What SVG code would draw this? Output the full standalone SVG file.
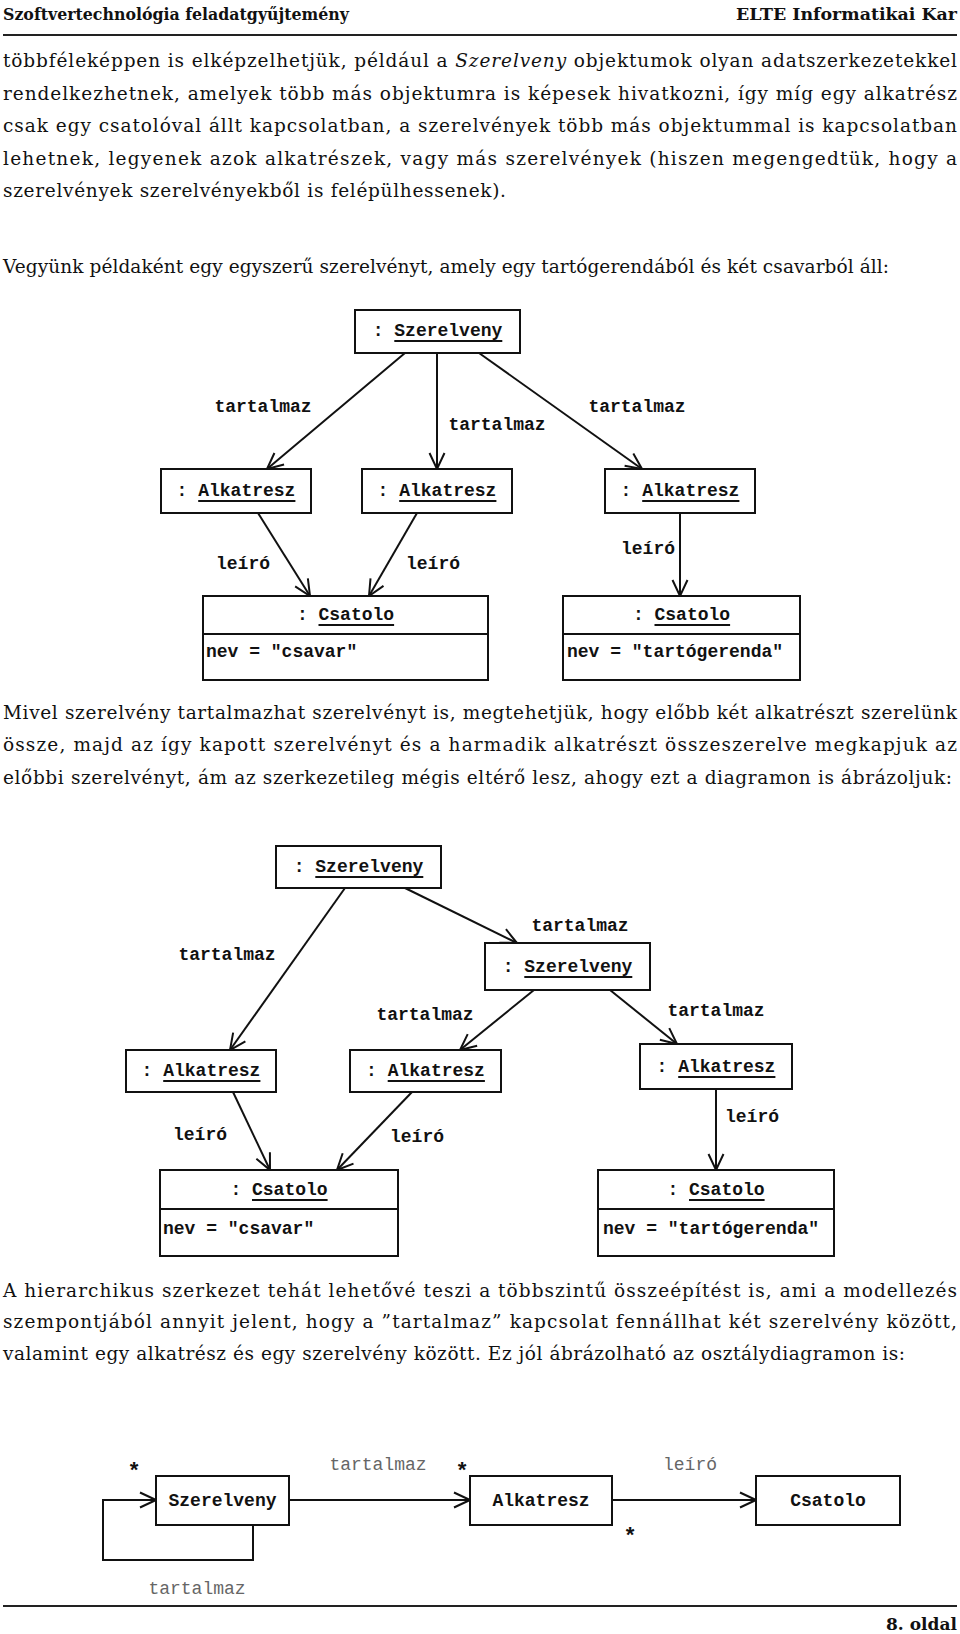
<svg xmlns="http://www.w3.org/2000/svg" width="960" height="1634" viewBox="0 0 960 1634">
<style>
.body{font-family:"DejaVu Serif","Liberation Serif",serif;font-size:18.5px;fill:#111}
.hdr{font-family:"DejaVu Serif","Liberation Serif",serif;font-size:17.5px;font-weight:bold;fill:#111}
.mono{font-family:"Liberation Mono","Courier New",monospace;font-size:18px;font-weight:bold;fill:#111}
.lbl{font-family:"Liberation Mono","Courier New",monospace;font-size:18px;font-weight:bold;fill:#111;text-anchor:middle}
.star{font-family:"Liberation Mono","Courier New",monospace;font-size:22px;font-weight:bold;fill:#111;text-anchor:middle}
.glbl{font-family:"Liberation Mono","Courier New",monospace;font-size:18px;fill:#666;text-anchor:middle}
.box{fill:#fff;stroke:#111;stroke-width:2}
.ul{stroke:#111;stroke-width:2}
.con{fill:none;stroke:#111;stroke-width:2}
.rule{stroke:#222;stroke-width:2}
</style>
<defs>
<marker id="arr" viewBox="0 0 20 20" refX="18" refY="10" markerWidth="20" markerHeight="20" markerUnits="userSpaceOnUse" orient="auto">
<path d="M2,2.5 L18,10 L2,17.5" fill="none" stroke="#111" stroke-width="2"/>
</marker>
</defs>
<rect width="960" height="1634" fill="#fff"/>

<!-- header -->
<g id="header">
<text class="hdr" x="3" y="20" textLength="346" lengthAdjust="spacingAndGlyphs">Szoftvertechnológia feladatgyűjtemény</text>
<text class="hdr" x="736" y="20" textLength="221" lengthAdjust="spacingAndGlyphs">ELTE Informatikai Kar</text>
<line class="rule" x1="3" y1="35" x2="957" y2="35"/>
</g>

<!-- paragraph 1 -->
<g id="para1">
<text class="body" x="3" y="67" textLength="954" lengthAdjust="spacing">többféleképpen is elképzelhetjük, például a <tspan font-style="italic">Szerelveny</tspan> objektumok olyan adatszerkezetekkel</text>
<text class="body" x="3" y="100" textLength="954" lengthAdjust="spacing">rendelkezhetnek, amelyek több más objektumra is képesek hivatkozni, így míg egy alkatrész</text>
<text class="body" x="3" y="132" textLength="954" lengthAdjust="spacing">csak egy csatolóval állt kapcsolatban, a szerelvények több más objektummal is kapcsolatban</text>
<text class="body" x="3" y="165" textLength="954" lengthAdjust="spacing">lehetnek, legyenek azok alkatrészek, vagy más szerelvények (hiszen megengedtük, hogy a</text>
<text class="body" x="3" y="197" textLength="503" lengthAdjust="spacing">szerelvények szerelvényekből is felépülhessenek).</text>
<text class="body" x="3" y="273" textLength="886" lengthAdjust="spacing">Vegyünk példaként egy egyszerű szerelvényt, amely egy tartógerendából és két csavarból áll:</text>
</g>

<!-- diagram 1 -->
<g id="d1-connectors">
<line class="con" x1="405" y1="353" x2="267" y2="469" marker-end="url(#arr)"/>
<line class="con" x1="437" y1="353" x2="437" y2="469" marker-end="url(#arr)"/>
<line class="con" x1="479" y1="353" x2="642" y2="469" marker-end="url(#arr)"/>
<line class="con" x1="258" y1="513" x2="310" y2="596" marker-end="url(#arr)"/>
<line class="con" x1="417" y1="513" x2="369" y2="596" marker-end="url(#arr)"/>
<line class="con" x1="680" y1="513" x2="680" y2="596" marker-end="url(#arr)"/>
<text class="lbl" x="263" y="412">tartalmaz</text>
<text class="lbl" x="497" y="430">tartalmaz</text>
<text class="lbl" x="637" y="412">tartalmaz</text>
<text class="lbl" x="243" y="569">leíró</text>
<text class="lbl" x="433" y="569">leíró</text>
<text class="lbl" x="648" y="554">leíró</text>
</g>
<g id="d1-szerelveny">
<rect class="box" x="355" y="310" width="165" height="43"/>
<text class="mono" x="372.7" y="336">: Szerelveny</text>
<line class="ul" x1="394.3" y1="341" x2="502.3" y2="341"/>
</g>
<g id="d1-alkatresz1">
<rect class="box" x="161" y="469" width="150" height="44"/>
<text class="mono" x="176.6" y="496">: Alkatresz</text>
<line class="ul" x1="198.2" y1="501" x2="295.4" y2="501"/>
</g>
<g id="d1-alkatresz2">
<rect class="box" x="362" y="469" width="150" height="44"/>
<text class="mono" x="377.6" y="496">: Alkatresz</text>
<line class="ul" x1="399.2" y1="501" x2="496.4" y2="501"/>
</g>
<g id="d1-alkatresz3">
<rect class="box" x="605" y="469" width="150" height="44"/>
<text class="mono" x="620.6" y="496">: Alkatresz</text>
<line class="ul" x1="642.2" y1="501" x2="739.4" y2="501"/>
</g>
<g id="d1-csatolo1">
<rect class="box" x="203" y="596" width="285" height="84"/>
<line class="ul" x1="203" y1="634" x2="488" y2="634"/>
<text class="mono" x="296.9" y="620">: Csatolo</text>
<line class="ul" x1="318.5" y1="625" x2="394.1" y2="625"/>
<text class="mono" x="206" y="657">nev = "csavar"</text>
</g>
<g id="d1-csatolo2">
<rect class="box" x="563" y="596" width="237" height="84"/>
<line class="ul" x1="563" y1="634" x2="800" y2="634"/>
<text class="mono" x="632.9" y="620">: Csatolo</text>
<line class="ul" x1="654.5" y1="625" x2="730.1" y2="625"/>
<text class="mono" x="567" y="657">nev = "tartógerenda"</text>
</g>

<!-- paragraph 2 -->
<g id="para2">
<text class="body" x="3" y="719" textLength="954" lengthAdjust="spacing">Mivel szerelvény tartalmazhat szerelvényt is, megtehetjük, hogy előbb két alkatrészt szerelünk</text>
<text class="body" x="3" y="751" textLength="954" lengthAdjust="spacing">össze, majd az így kapott szerelvényt és a harmadik alkatrészt összeszerelve megkapjuk az</text>
<text class="body" x="3" y="784" textLength="949" lengthAdjust="spacing">előbbi szerelvényt, ám az szerkezetileg mégis eltérő lesz, ahogy ezt a diagramon is ábrázoljuk:</text>
</g>

<!-- diagram 2 -->
<g id="d2-connectors">
<line class="con" x1="345" y1="888" x2="230" y2="1050" marker-end="url(#arr)"/>
<line class="con" x1="405" y1="888" x2="517" y2="943" marker-end="url(#arr)"/>
<line class="con" x1="534" y1="990" x2="460" y2="1050" marker-end="url(#arr)"/>
<line class="con" x1="610" y1="990" x2="677" y2="1044" marker-end="url(#arr)"/>
<line class="con" x1="233" y1="1092" x2="270" y2="1170" marker-end="url(#arr)"/>
<line class="con" x1="412" y1="1092" x2="337" y2="1170" marker-end="url(#arr)"/>
<line class="con" x1="716" y1="1089" x2="716" y2="1170" marker-end="url(#arr)"/>
<text class="lbl" x="227" y="960">tartalmaz</text>
<text class="lbl" x="580" y="931">tartalmaz</text>
<text class="lbl" x="425" y="1020">tartalmaz</text>
<text class="lbl" x="716" y="1016">tartalmaz</text>
<text class="lbl" x="200" y="1140">leíró</text>
<text class="lbl" x="417" y="1142">leíró</text>
<text class="lbl" x="752" y="1122">leíró</text>
</g>
<g id="d2-szerelveny1">
<rect class="box" x="276" y="846" width="165" height="42"/>
<text class="mono" x="293.7" y="872">: Szerelveny</text>
<line class="ul" x1="315.3" y1="877" x2="423.3" y2="877"/>
</g>
<g id="d2-szerelveny2">
<rect class="box" x="485" y="943" width="165" height="47"/>
<text class="mono" x="502.7" y="972">: Szerelveny</text>
<line class="ul" x1="524.3" y1="977" x2="632.3" y2="977"/>
</g>
<g id="d2-alkatresz1">
<rect class="box" x="126" y="1050" width="150" height="42"/>
<text class="mono" x="141.6" y="1076">: Alkatresz</text>
<line class="ul" x1="163.2" y1="1081" x2="260.4" y2="1081"/>
</g>
<g id="d2-alkatresz2">
<rect class="box" x="350" y="1050" width="151" height="42"/>
<text class="mono" x="366.1" y="1076">: Alkatresz</text>
<line class="ul" x1="387.7" y1="1081" x2="484.9" y2="1081"/>
</g>
<g id="d2-alkatresz3">
<rect class="box" x="640" y="1044" width="152" height="45"/>
<text class="mono" x="656.6" y="1072">: Alkatresz</text>
<line class="ul" x1="678.2" y1="1077" x2="775.4" y2="1077"/>
</g>
<g id="d2-csatolo1">
<rect class="box" x="160" y="1170" width="238" height="86"/>
<line class="ul" x1="160" y1="1209" x2="398" y2="1209"/>
<text class="mono" x="230.4" y="1195">: Csatolo</text>
<line class="ul" x1="252" y1="1200" x2="327.6" y2="1200"/>
<text class="mono" x="163" y="1234">nev = "csavar"</text>
</g>
<g id="d2-csatolo2">
<rect class="box" x="598" y="1170" width="236" height="86"/>
<line class="ul" x1="598" y1="1209" x2="834" y2="1209"/>
<text class="mono" x="667.4" y="1195">: Csatolo</text>
<line class="ul" x1="689" y1="1200" x2="764.6" y2="1200"/>
<text class="mono" x="603" y="1234">nev = "tartógerenda"</text>
</g>

<!-- paragraph 3 -->
<g id="para3">
<text class="body" x="3" y="1297" textLength="954" lengthAdjust="spacing">A hierarchikus szerkezet tehát lehetővé teszi a többszintű összeépítést is, ami a modellezés</text>
<text class="body" x="3" y="1328" textLength="954" lengthAdjust="spacing">szempontjából annyit jelent, hogy a ”tartalmaz” kapcsolat fennállhat két szerelvény között,</text>
<text class="body" x="3" y="1360" textLength="902" lengthAdjust="spacing">valamint egy alkatrész és egy szerelvény között. Ez jól ábrázolható az osztálydiagramon is:</text>
</g>

<!-- class diagram -->
<g id="cd-connectors">
<line class="con" x1="289" y1="1500" x2="470" y2="1500" marker-end="url(#arr)"/>
<line class="con" x1="612" y1="1500" x2="756" y2="1500" marker-end="url(#arr)"/>
<polyline class="con" points="253,1525 253,1560 103,1560 103,1500 156,1500" marker-end="url(#arr)"/>
<text class="star" x="134" y="1478">*</text>
<text class="star" x="462" y="1478">*</text>
<text class="star" x="630" y="1543">*</text>
<text class="glbl" x="378" y="1470">tartalmaz</text>
<text class="glbl" x="690" y="1470">leíró</text>
<text class="glbl" x="197" y="1594">tartalmaz</text>
</g>
<g id="cd-szerelveny">
<rect class="box" x="156" y="1476" width="133" height="49"/>
<text class="lbl" x="222.5" y="1506">Szerelveny</text>
</g>
<g id="cd-alkatresz">
<rect class="box" x="470" y="1476" width="142" height="49"/>
<text class="lbl" x="541" y="1506">Alkatresz</text>
</g>
<g id="cd-csatolo">
<rect class="box" x="756" y="1476" width="144" height="49"/>
<text class="lbl" x="828" y="1506">Csatolo</text>
</g>

<!-- footer -->
<g id="footer">
<line class="rule" x1="3" y1="1606" x2="957" y2="1606"/>
<text class="hdr" x="886" y="1630" textLength="71" lengthAdjust="spacingAndGlyphs">8. oldal</text>
</g>
</svg>
